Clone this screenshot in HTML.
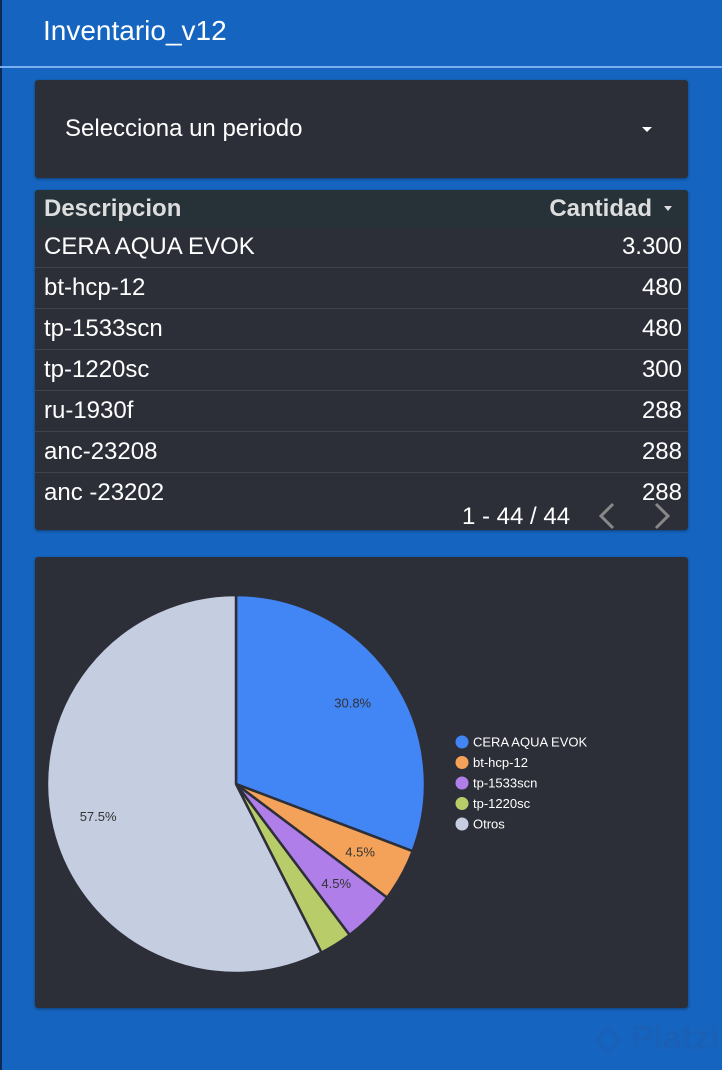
<!DOCTYPE html>
<html><head><meta charset="utf-8"><style>
body{margin:0;width:722px;height:1070px;background:#1565c0;font-family:"Liberation Sans",sans-serif;position:relative;overflow:hidden}
.lb{position:absolute;left:0;top:0;width:2px;height:1070px;background:#0d2a55}
.title{position:absolute;left:43px;top:15px;color:#fff;font-size:28px}
.hl{position:absolute;left:0;top:66px;width:722px;height:2px;background:#79aef0}
.card{position:absolute;left:35px;width:653px;background:#2d2f38;border-radius:3px;box-shadow:0 1px 3px rgba(0,0,0,.4)}
.sel{top:80px;height:98px}
.sel span{position:absolute;left:30px;top:35px;color:#fff;font-size:24px}
.caret{position:absolute;right:36px;top:47px;width:0;height:0;border-left:5px solid transparent;border-right:5px solid transparent;border-top:5px solid #fff}
.tbl{top:190px;height:340px;overflow:hidden}
.body{height:310px;overflow:hidden}
.th{height:37px;background:#263238;color:#ddd;font-weight:bold;font-size:24px;position:relative}
.row{height:40px;border-bottom:1px solid #40434c;position:relative;color:#fff;font-size:24px}
.c1{position:absolute;left:9px;top:6px}
.c2{position:absolute;right:6px;top:6px}
.pg{position:absolute;left:0;top:300px;width:653px;height:40px}
.chart{top:557px;height:451px}
</style></head><body>
<div class="lb"></div>
<div class="title">Inventario_v12</div>
<div class="hl"></div>
<div class="card sel"><span>Selecciona un periodo</span><div class="caret"></div></div>
<div class="card tbl">
<div class="body">
<div class="th"><span class="c1" style="top:5px">Descripcion</span><span class="c2" style="right:36px;top:5px">Cantidad</span><span style="position:absolute;right:16px;top:16px;border-left:4px solid transparent;border-right:4px solid transparent;border-top:5px solid #ddd"></span></div>
<div class="row"><span class="c1">CERA AQUA EVOK</span><span class="c2">3.300</span></div>
<div class="row"><span class="c1">bt-hcp-12</span><span class="c2">480</span></div>
<div class="row"><span class="c1">tp-1533scn</span><span class="c2">480</span></div>
<div class="row"><span class="c1">tp-1220sc</span><span class="c2">300</span></div>
<div class="row"><span class="c1">ru-1930f</span><span class="c2">288</span></div>
<div class="row"><span class="c1">anc-23208</span><span class="c2">288</span></div>
<div class="row"><span class="c1">anc -23202</span><span class="c2">288</span></div>
</div>
<div class="pg" style="top:302px">
<span style="position:absolute;left:427px;top:11px;color:#fff;font-size:24px">1 - 44 / 44</span>
<svg style="position:absolute;left:560px;top:8px" width="80" height="32"><polyline points="18,4 6,16 18,28" fill="none" stroke="#888" stroke-width="3"/><polyline points="61,4 73,16 61,28" fill="none" stroke="#888" stroke-width="3"/></svg>
</div>
</div>
<div class="card chart">
<svg id="pie" width="653" height="451"></svg>
</div>
<script>
const categories=["CERA AQUA EVOK","bt-hcp-12","tp-1533scn","tp-1220sc","Otros"];
const values=[3300,480,480,300,6160];
const colors=["#4285f4","#f4a259","#b07ee8","#b8cc6a","#c5cde0"];
const svg=document.getElementById('pie');const NS="http://www.w3.org/2000/svg";
const cx=201,cy=227,r=189;
const total=values.reduce((a,b)=>a+b,0);
let a0=0;
function pt(a,rr){return [cx+rr*Math.sin(a*2*Math.PI),cy-rr*Math.cos(a*2*Math.PI)];}
values.forEach((v,i)=>{
 const f=v/total,a1=a0+f;const p0=pt(a0,r),p1=pt(a1,r);
 const p=document.createElementNS(NS,'path');
 p.setAttribute('d',`M${cx},${cy}L${p0[0]},${p0[1]}A${r},${r} 0 ${f>0.5?1:0} 1 ${p1[0]},${p1[1]}Z`);
 p.setAttribute('fill',colors[i]);p.setAttribute('stroke','#2d2f38');p.setAttribute('stroke-width','2.5');
 
 
 svg.appendChild(p);
 if(f>=0.04){const lp=pt((a0+a1)/2,r*0.75);const t=document.createElementNS(NS,'text');
  t.setAttribute('x',lp[0]);t.setAttribute('y',lp[1]+4);t.setAttribute('text-anchor','middle');
  t.setAttribute('font-size','13');t.setAttribute('fill','#333');t.textContent=(f*100).toFixed(1)+'%';
  
  
  svg.appendChild(t);}
 a0=a1;
});
categories.forEach((c,i)=>{
 const g=document.createElementNS(NS,'g');
 
 
 const y=185+i*20.5;
 const ci=document.createElementNS(NS,'circle');ci.setAttribute('cx',427);ci.setAttribute('cy',y);ci.setAttribute('r',6.5);ci.setAttribute('fill',colors[i]);
 const t=document.createElementNS(NS,'text');t.setAttribute('x',438);t.setAttribute('y',y+4.5);t.setAttribute('font-size','13');t.setAttribute('fill','#fff');t.textContent=c;
 g.appendChild(ci);g.appendChild(t);svg.appendChild(g);
});
</script>
<div style="position:absolute;left:595px;top:1018px;color:#1a5fb4;font-size:34px;font-weight:bold;opacity:.8">◇ Platzi</div>
</body></html>
